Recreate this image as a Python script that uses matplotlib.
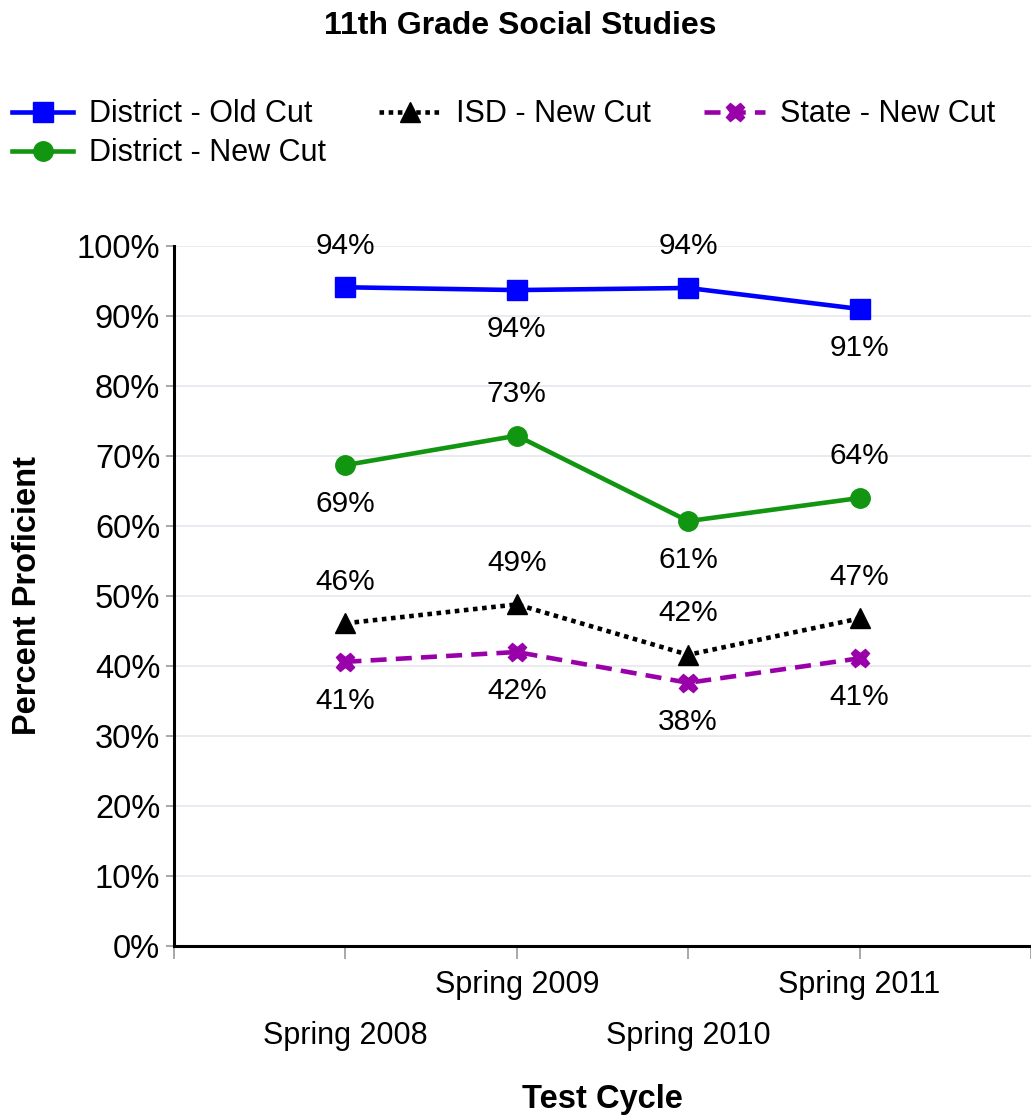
import matplotlib
matplotlib.use("Agg")
from matplotlib import pyplot as plt

plt.rcParams['font.family'] = ['Liberation Sans', 'DejaVu Sans']

# test cycles and percent proficient
cycles = ["Spring 2008", "Spring 2009", "Spring 2010", "Spring 2011"]
district_old = [94.1, 93.7, 94.0, 91.0]
district_new = [68.7, 72.9, 60.7, 64.0]
isd_new = [46.1, 48.8, 41.6, 46.8]
state_new = [40.6, 42.0, 37.6, 41.1]

# where each value label sits: +1 above the point, -1 below
old_side = [1, -1, 1, -1]
new_side = [-1, 1, -1, 1]
isd_side = [1, 1, 1, 1]
state_side = [-1, -1, -1, -1]

fig = plt.figure(figsize=(10.31, 11.16), dpi=100)
ax = fig.add_axes([0.1688, 0.1523, 0.8312, 0.6273])

xs = list(range(1, len(cycles) + 1))

series = [
    ("District - Old Cut", district_old, old_side,
     dict(color="#0000ff", ls="-", marker="s", ms=15)),
    ("District - New Cut", district_new, new_side,
     dict(color="#129612", ls="-", marker="o", ms=14)),
    ("ISD - New Cut", isd_new, isd_side,
     dict(color="black", ls=(0, (1, 1)), marker="^", ms=14)),
    ("State - New Cut", state_new, state_side,
     dict(color="#9900aa", ls=(0, (3.5, 2)), marker="X", ms=13)),
]

for name, vals, sides, st in series:
    ax.plot(xs, vals, label=name, lw=3.3, **st, zorder=3)
    for x, v, s in zip(xs, vals, sides):
        off = 30 if s > 0 else -28
        ax.annotate("{:.0f}%".format(v), (x, v), xytext=(0, off),
                    textcoords="offset points", ha="center", va="center",
                    fontsize=21.5, zorder=4)

ax.set_ylim(0, 100)
ax.set_xlim(0, 4.945)
ax.set_yticks(range(0, 101, 10))
ax.set_yticklabels(["{}%".format(t) for t in range(0, 101, 10)], fontsize=23.5)
ax.grid(axis="y", color="#e6e6ee", lw=1.2, zorder=0)

# tick marks between categories, labels on the categories, staggered
ax.xaxis.remove_overlapping_locs = False
ax.set_xticks(range(0, 6))
ax.set_xticklabels([])
ax.set_xticks(xs, minor=True)
ax.set_xticklabels([("\n" if i % 2 == 0 else "") + c for i, c in enumerate(cycles)],
                   minor=True, fontsize=22)
for lab in ax.get_xticklabels(minor=True):
    lab.set_linespacing(1.95)
ax.tick_params(axis="x", which="major", length=9, width=1.2, color="#999999")
ax.tick_params(axis="x", which="minor", length=0, pad=17)
ax.tick_params(axis="y", length=6, width=1.2, color="#999999", pad=4)

for side in ["top", "right"]:
    ax.spines[side].set_visible(False)
for side in ["left", "bottom"]:
    ax.spines[side].set_linewidth(2.2)

ax.set_ylabel("Percent Proficient", fontsize=23.5, fontweight="bold", labelpad=24)
ax.set_xlabel("Test Cycle", fontsize=23.5, fontweight="bold")
ax.xaxis.set_label_coords(0.5, -0.197)

fig.text(0.505, 0.977, "11th Grade Social Studies", ha="center", va="center",
         fontsize=23, fontweight="bold")

fig.legend(loc="upper left", bbox_to_anchor=(0.012, 0.911), ncol=3,
           frameon=False, fontsize=22, borderpad=0, borderaxespad=0,
           handlelength=2.0, handletextpad=0.5, columnspacing=1.75,
           labelspacing=0.3)

fig.savefig("out.png", dpi=100)
